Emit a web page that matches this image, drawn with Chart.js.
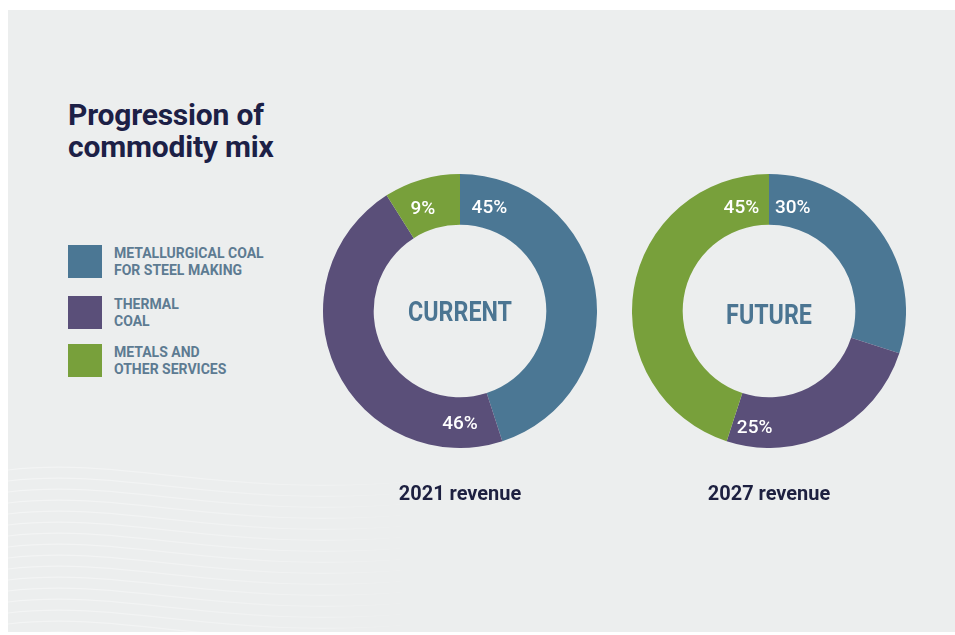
<!DOCTYPE html>
<html>
<head>
<meta charset="utf-8">
<script src="https://cdn.jsdelivr.net/npm/chart.js@4.4.1/dist/chart.umd.min.js"></script>
<style>
  html, body { margin: 0; padding: 0; background: #ffffff; }
  body { width: 955px; height: 635px; position: relative; overflow: hidden; font-family: Roboto, "Noto Sans", sans-serif; }
  #panel { position: absolute; left: 8px; top: 10px; width: 947px; height: 622px; background: #eceeee; overflow: hidden; }
  #waves { position: absolute; left: 0; top: 440px; }
  .title { position: absolute; left: 60px; top: 89px; font-size: 30px; line-height: 32px; font-weight: 700; color: #1c2046; letter-spacing: -0.2px; }
  .leg { position: absolute; left: 60px; }
  .leg .box { position: absolute; left: 0; top: 0; width: 34px; height: 33px; }
  .leg .txt { position: absolute; left: 46px; top: 0px; font-size: 14px; line-height: 17px; font-weight: 700; color: #5d7b92; white-space: nowrap; }
  .year { position: absolute; width: 200px; text-align: center; font-size: 21px; font-weight: 700; color: #1d2040; transform: scaleX(0.95); }
  .donut { position: absolute; width: 274px; height: 274px; }
</style>
</head>
<body>
<div id="panel">
  <svg id="waves" width="420" height="190" viewBox="0 0 420 190"></svg>
  <div class="title">Progression of<br>commodity mix</div>
  <div id="legend"></div>
  <div class="year" style="left:352px; top:471px;">2021 revenue</div>
  <div class="year" style="left:661px; top:471px;">2027 revenue</div>
  <div class="donut" style="left:315px; top:164px;"><canvas id="cur" width="274" height="274"></canvas></div>
  <div class="donut" style="left:624px; top:164px;"><canvas id="fut" width="274" height="274"></canvas></div>
</div>
<script>
// categories and values
const categories = [
  ["METALLURGICAL COAL", "FOR STEEL MAKING"],
  ["THERMAL", "COAL"],
  ["METALS AND", "OTHER SERVICES"]
];
const colours = ["#4b7794", "#5a4f79", "#78a03b"];
const current2021 = [45, 46, 9];
const future2027 = [30, 25, 45];

// legend (html)
const legend = document.getElementById("legend");
const legTops = [235, 286, 334];
categories.forEach((c, i) => {
  const d = document.createElement("div");
  d.className = "leg";
  d.style.top = legTops[i] + "px";
  d.innerHTML = '<div class="box" style="background:' + colours[i] + '"></div><div class="txt">' + c.join("<br>") + '</div>';
  legend.appendChild(d);
});

// faint wave lines in the bottom left corner
const svg = document.getElementById("waves");
let paths = "";
for (let k = 0; k < 16; k++) {
  const y = 20 + k * 11;
  paths += '<path d="M0 ' + y + ' C 120 ' + (y - 14) + ', 220 ' + (y + 30) + ', 420 ' + (y + 10) + '" fill="none" stroke="#ffffff" stroke-opacity="0.4" stroke-width="1.2"/>';
}
svg.innerHTML = '<defs><linearGradient id="fade" x1="0" x2="1" y1="0" y2="0"><stop offset="0" stop-color="#fff" stop-opacity="1"/><stop offset="0.75" stop-color="#fff" stop-opacity="0.6"/><stop offset="1" stop-color="#fff" stop-opacity="0"/></linearGradient><mask id="m"><rect width="420" height="190" fill="url(#fade)"/></mask></defs><g mask="url(#m)">' + paths + '</g>';

// plugin: centre word and percent labels on the ring
const ringText = {
  id: "ringText",
  afterDatasetsDraw(chart, args, opts) {
    const ctx = chart.ctx;
    const arcs = chart.getDatasetMeta(0).data;
    const vals = chart.data.datasets[0].data;
    const cx = arcs[0].x, cy = arcs[0].y;
    const rMid = (arcs[0].innerRadius + arcs[0].outerRadius) / 2;
    ctx.save();
    ctx.textAlign = "center";
    ctx.textBaseline = "middle";
    // percent labels
    ctx.fillStyle = "#ffffff";
    ctx.font = "500 19px Roboto";
    vals.forEach((v, i) => {
      const a = opts.angles[i] * Math.PI / 180;
      const r = rMid + opts.offsets[i];
      ctx.fillText(v + "%", cx + r * Math.sin(a), cy - r * Math.cos(a));
    });
    // centre word, slightly condensed
    ctx.fillStyle = "#4b7592";
    ctx.font = "700 28px Roboto";
    ctx.translate(cx, cy + opts.centreDy);
    ctx.scale(0.83, 1);
    ctx.fillText(opts.centre, 0, 0);
    ctx.restore();
  }
};

function makeDonut(id, values, centre, angles, offsets, dy) {
  return new Chart(document.getElementById(id), {
    type: "doughnut",
    data: {
      labels: categories.map(c => c.join(" ")),
      datasets: [{
        data: values,
        backgroundColor: colours,
        borderWidth: 0
      }]
    },
    options: {
      responsive: false,
      animation: false,
      cutout: "63%",
      layout: { padding: 0 },
      plugins: {
        legend: { display: false },
        tooltip: { enabled: false },
        ringText: { centre: centre, angles: angles, offsets: offsets, centreDy: dy }
      }
    },
    plugins: [ringText]
  });
}

makeDonut("cur", current2021, "CURRENT", [16, 180, -20], [-5, 2, -3], 3);
makeDonut("fut", future2027, "FUTURE", [13, 187, -15], [-6, 6, -5], 6);
</script>
</body>
</html>
